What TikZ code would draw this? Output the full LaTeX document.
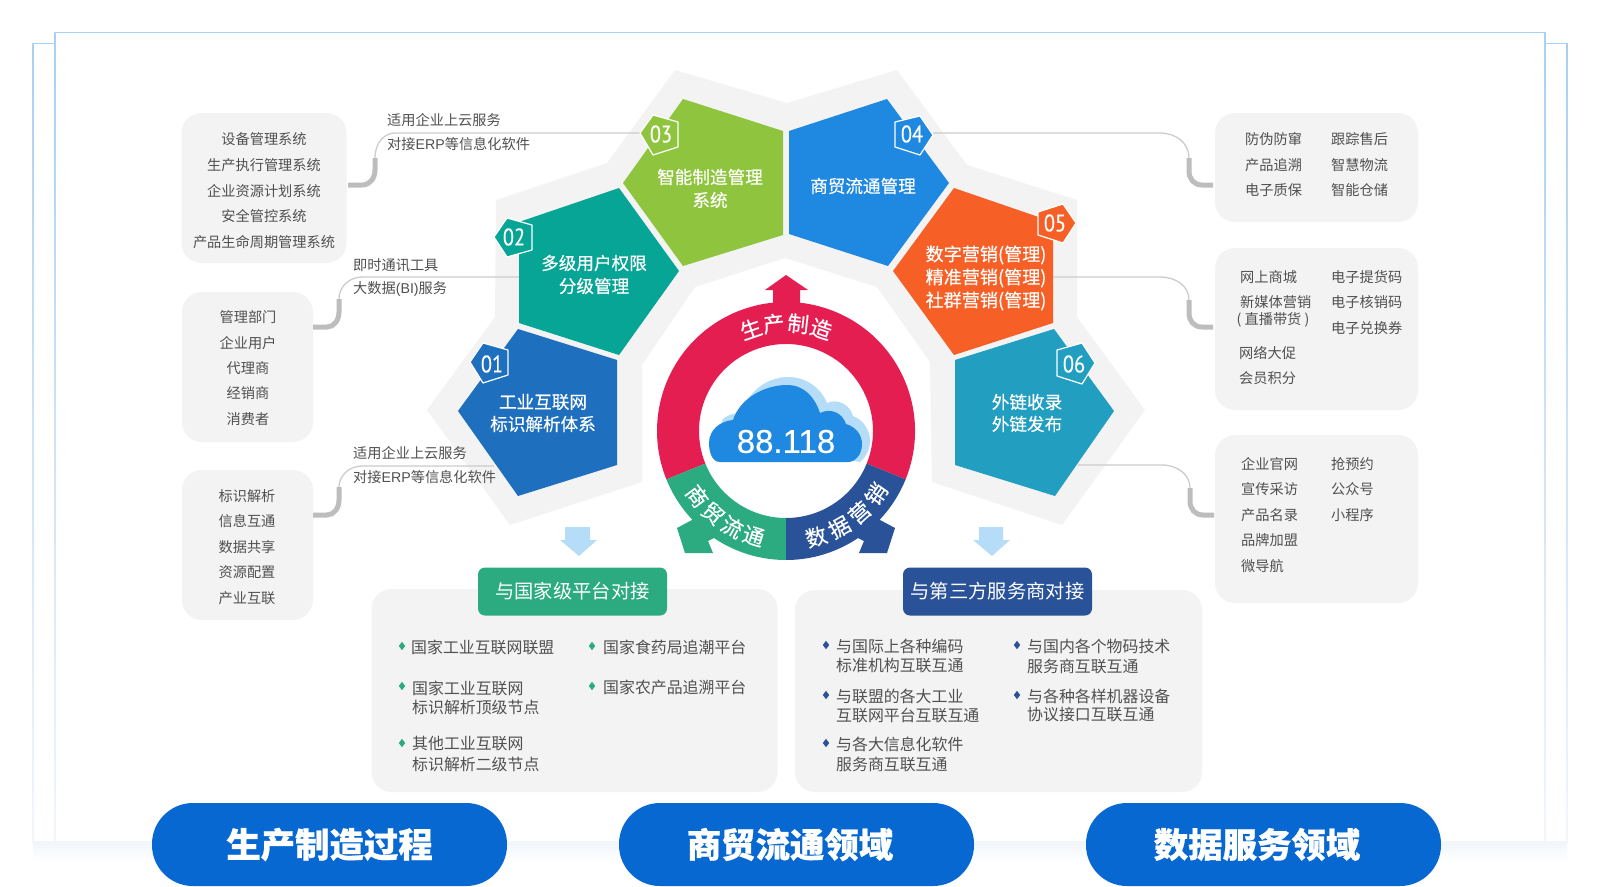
\documentclass[tikz,border=0pt]{standalone}
\usepackage{fontspec}
\setmainfont{Noto Sans CJK SC}
\newfontfamily\medf[FakeBold=0.35]{Noto Sans CJK SC}
\newfontfamily\pillf[BoldFeatures={FakeBold=0.7}]{Noto Sans CJK SC}
\newfontfamily\numf[FakeStretch=0.85,FakeBold=0.2]{PT Sans}
\newfontfamily\arialf[FakeBold=0.3]{Liberation Sans}
\newfontfamily\latf{Liberation Sans}
\usetikzlibrary{calc}
\definecolor{pan}{HTML}{F3F3F3}
\definecolor{tx}{HTML}{505050}
\definecolor{cred}{HTML}{E51E52}
\definecolor{cgreen}{HTML}{2BAB7F}
\definecolor{cblue}{HTML}{2A5298}
\definecolor{cone}{HTML}{1E6FBE}
\definecolor{ctwo}{HTML}{07A596}
\definecolor{cthree}{HTML}{8FC53E}
\definecolor{cfour}{HTML}{1F88E0}
\definecolor{cfive}{HTML}{F65F26}
\definecolor{csix}{HTML}{229FC0}
\definecolor{pill}{HTML}{0768D1}
\definecolor{pale}{HTML}{B5DDF7}
\definecolor{frm}{HTML}{A9D0F3}
\definecolor{frmb}{HTML}{F1F6FB}
\newcommand{\fsz}[1]{\fontsize{#1}{#1}\selectfont}
\tikzset{
  panelbox/.style={fill=pan,rounded corners=20pt,inner sep=0pt},
  small/.style={text=tx,inner sep=0pt,font=\fsz{14.2}},
  smallw/.style={small,anchor=west},
  mid/.style={text=tx,inner sep=0pt,anchor=west,font=\fsz{15.9}},
  pentlabel/.style={text=white,inner sep=0pt,font=\medf\fsz{17.6}},
  badge/.style={draw=white,line width=1.2pt,line join=round},
  badgetext/.style={text=white,inner sep=0pt,font=\numf\fsz{24}},
  thickline/.style={draw=black!26,line width=5pt},
  thinline/.style={draw=black!20,line width=1.3pt},
  ringtext/.style={text=white,inner sep=0pt,font=\medf\fsz{21.5}},
  titlebox/.style={rounded corners=7pt,minimum width=189pt,minimum height=48pt,inner sep=0pt,text=white,font=\fsz{19.3}},
  pillbox/.style={fill=pill,rounded corners=41pt,minimum width=355pt,minimum height=83pt,inner sep=0pt,text=white,font=\pillf\bfseries\fsz{34.4}},
}
\newcommand{\dia}[3]{\fill[#3] (#1-3.2,#2) -- (#1,#2-4.2) -- (#1+3.2,#2) -- (#1,#2+4.2) -- cycle;}
\begin{document}
\begin{tikzpicture}[x=1pt,y=-1pt]
\path[use as bounding box,fill=white] (0,0) rectangle (1600,886);
\clip (0,0) rectangle (1600,886);
% frame
\shade[top color=frmb,bottom color=white] (33,842) rectangle (1567,862);
\shade[top color=frm,bottom color=frmb] (32.3,43) rectangle (33.9,842);
\shade[top color=frm,bottom color=frmb] (54.3,32) rectangle (55.9,842);
\shade[top color=frm,bottom color=frmb] (1566.2,43) rectangle (1567.8,842);
\shade[top color=frm,bottom color=frmb] (1544.2,32) rectangle (1545.8,842);
\draw[frm,line width=1.5pt] (33,43.3) -- (55,43.3);
\draw[frm,line width=1.5pt] (1545,43.3) -- (1567,43.3);
\draw[frm,line width=1.5pt] (55,32.3) -- (1545,32.3);
\draw[frmb,line width=2pt] (33,841.5) -- (1567,841.5);
% grey backdrop
\fill[pan] (427,410) -- (495,317) -- (496,200) -- (607,163) -- (675,70) -- (787,103) -- (897,70) -- (967,165) -- (1077,200) -- (1077,317) -- (1145,410) -- (1062,525) -- (932,482) -- (930,362) -- (877,287) -- (785,258) -- (695,287) -- (642,365) -- (642,482) -- (510,525) -- cycle;
% side panels
\node[panelbox,minimum width=165pt,minimum height=150pt] (pl1) at (264,188) {};
\node[panelbox,minimum width=131pt,minimum height=150pt] (pl2) at (247.5,367) {};
\node[panelbox,minimum width=131pt,minimum height=150pt] (pl3) at (247.5,545) {};
\node[panelbox,minimum width=203pt,minimum height=109pt] (pr1) at (1316.5,167.5) {};
\node[panelbox,minimum width=203pt,minimum height=162pt] (pr2) at (1316.5,329) {};
\node[panelbox,minimum width=203pt,minimum height=168pt] (pr3) at (1316.5,519) {};
\node[panelbox,minimum width=406pt,minimum height=203pt] (pb1) at (574.5,690.5) {};
\node[panelbox,minimum width=407pt,minimum height=202pt] (pb2) at (998.5,691) {};
% connector ends
\coordinate (a3) at (640,133); \coordinate (a2) at (519,277); \coordinate (a1) at (494,466);
\coordinate (a4) at (933,133); \coordinate (a5) at (1053,277); \coordinate (a6) at (1078,465);
\coordinate (e1) at (348,185); \coordinate (m1) at (375,158);
\coordinate (e2) at (313,327); \coordinate (m2) at (339,299);
\coordinate (e3) at (313,515); \coordinate (m3) at (339,487);
\coordinate (e4) at (1213,185); \coordinate (m4) at (1189,158);
\coordinate (e5) at (1213,327); \coordinate (m5) at (1189,300);
\coordinate (e6) at (1214,515); \coordinate (m6) at (1190,488);
\draw[thinline] (a3) -- (395,133) .. controls (385,133) and (375,142) .. (m1);
\draw[thinline] (a2) -- (362,277) .. controls (350,277) and (339,286) .. (m2);
\draw[thinline] (a1) -- (362,466) .. controls (350,466) and (339,475) .. (m3);
\draw[thinline] (a4) -- (1160,133) .. controls (1176,133) and (1189,143) .. (m4);
\draw[thinline] (a5) -- (1160,277) .. controls (1176,277) and (1189,286) .. (m5);
\draw[thinline] (a6) -- (1162,465) .. controls (1178,465) and (1190,475) .. (m6);
\draw[thickline] (e1) -- (362,185) .. controls (370,185) and (375,178) .. (375,170) -- (m1);
\draw[thickline] (e2) -- (327,327) .. controls (334,327) and (339,320) .. (339,312) -- (m2);
\draw[thickline] (e3) -- (327,515) .. controls (334,515) and (339,508) .. (339,500) -- (m3);
\draw[thickline] (e4) -- (1202,185) .. controls (1194,185) and (1189,179) .. (1189,171) -- (m4);
\draw[thickline] (e5) -- (1202,327) .. controls (1194,327) and (1189,321) .. (1189,313) -- (m5);
\draw[thickline] (e6) -- (1203,515) .. controls (1195,515) and (1190,509) .. (1190,501) -- (m6);
% pentagons
\fill[cone] (458,411) -- (518,329) -- (617,360) -- (617,465) -- (518,496) -- cycle;
\fill[ctwo] (519,222) -- (619,188) -- (679,271) -- (619,355) -- (519,323) -- cycle;
\fill[cthree] (623,183) -- (683,99) -- (783,131) -- (783,235) -- (683,266) -- cycle;
\fill[cfour] (789,131) -- (887,99) -- (949,183) -- (888,266) -- (789,234) -- cycle;
\fill[cfive] (893,271) -- (954,188) -- (1053,222) -- (1053,323) -- (954,355) -- cycle;
\fill[csix] (955,360) -- (1054,329) -- (1114,411) -- (1055,496) -- (955,465) -- cycle;
% badges
\filldraw[badge,fill=cone] (470,362) -- (483,343) -- (508,350) -- (508,375) -- (483,383) -- cycle;
\filldraw[badge,fill=ctwo] (494,237) -- (507,218) -- (532,225) -- (532,250) -- (507,257) -- cycle;
\filldraw[badge,fill=cthree] (640,133) -- (653,115) -- (678,122) -- (678,147) -- (653,155) -- cycle;
\filldraw[badge,fill=cfour] (895,122) -- (920,116) -- (933,135) -- (920,155) -- (895,147) -- cycle;
\filldraw[badge,fill=cfive] (1038,212) -- (1063,204) -- (1076,223) -- (1063,243) -- (1038,235) -- cycle;
\filldraw[badge,fill=csix] (1057,350) -- (1082,343) -- (1095,363) -- (1082,384) -- (1057,376) -- cycle;
\node[badgetext] (n1) at (492,364) {01};
\node[badgetext] (n2) at (514,237) {02};
\node[badgetext] (n3) at (661,134) {03};
\node[badgetext] (n4) at (912,134) {04};
\node[badgetext] (n5) at (1055,223) {05};
\node[badgetext] (n6) at (1074,364) {06};
% pentagon labels
\node[pentlabel] (t1a) at (543,402) {工业互联网};
\node[pentlabel] (t1b) at (543,424) {标识解析体系};
\node[pentlabel] (t2a) at (594,263) {多级用户权限};
\node[pentlabel] (t2b) at (594,286) {分级管理};
\node[pentlabel] (t3a) at (710,177) {智能制造管理};
\node[pentlabel] (t3b) at (710,200) {系统};
\node[pentlabel] (t4a) at (863,186) {商贸流通管理};
\node[pentlabel,font=\medf\fsz{18.1}] (t5a) at (986,255) {数字营销(管理)};
\node[pentlabel,font=\medf\fsz{18.1}] (t5b) at (986,278) {精准营销(管理)};
\node[pentlabel,font=\medf\fsz{18.1}] (t5c) at (986,301) {社群营销(管理)};
\node[pentlabel] (t6a) at (1027,402) {外链收录};
\node[pentlabel] (t6b) at (1027,424) {外链发布};
% ring
\fill[cred] (773,305) -- (773,290) -- (765,290) -- (786,275) -- (808,290) -- (800,290) -- (800,305) -- cycle;
\fill[cred] ({786+129*cos(22)},{431+129*sin(22)}) arc[start angle=-22,end angle=202,radius=129pt] -- ({786+87*cos(202)},{431-87*sin(202)}) arc[start angle=202,end angle=-22,radius=87pt] -- cycle;
\fill[cgreen] ({786+129*cos(202)},{431-129*sin(202)}) arc[start angle=202,end angle=270,radius=129pt] -- (786,518) arc[start angle=270,end angle=202,radius=87pt] -- cycle;
\fill[cblue] (786,560) arc[start angle=270,end angle=338,radius=129pt] -- ({786+87*cos(22)},{431+87*sin(22)}) arc[start angle=338,end angle=270,radius=87pt] -- cycle;
\fill[cgreen] (692,520) -- (677,528) -- (685,553) -- (713,553) -- (708,541) -- (730,530) -- (705,505) -- cycle;
\fill[cblue] (880,520) -- (895,528) -- (887,553) -- (859,553) -- (864,541) -- (842,530) -- (867,505) -- cycle;
\foreach \c/\a [count=\i] in {生/-19,产/-6.5,制/6.5,造/19}
  \node[ringtext,rotate=-\a] (rr\i) at ({786+108*sin(\a)},{431-108*cos(\a)}) {\c};
\foreach \c/\a [count=\i] in {商/53.7,贸/41.5,流/29.3,通/17.2}
  \node[ringtext,rotate=-\a] (rg\i) at ({786-110*sin(\a)},{431+110*cos(\a)}) {\c};
\foreach \c/\a [count=\i] in {数/16,据/29,营/42,销/55}
  \node[ringtext,rotate=\a] (rb\i) at ({786+110*sin(\a)},{431+110*cos(\a)}) {\c};
% cloud
\fill[pale] (722,420) .. controls (725,416) and (733,413) .. (741,413) .. controls (750,388) and (770,377) .. (788,377) .. controls (808,377) and (822,390) .. (827,403) .. controls (838,398) and (850,405) .. (853,416) .. controls (864,420) and (871,432) .. (870,443) .. controls (869,452) and (865,458) .. (860,462) -- (722,440) -- cycle;
\fill[cfour] (720,462) .. controls (712,462) and (709,452) .. (709,443) .. controls (709,430) and (720,421) .. (733,420) .. controls (740,398) and (765,385) .. (787,385) .. controls (805,385) and (815,398) .. (820,413) .. controls (830,408) and (842,412) .. (846,424) .. controls (856,427) and (862,435) .. (862,444) .. controls (862,455) and (855,462) .. (848,462) -- cycle;
\node[text=white,inner sep=0pt,font=\arialf\fsz{33}] (num) at (786,441.5) {88.118};
% left panel text
\foreach \y/\t [count=\i] in {139/设备管理系统,165/生产执行管理系统,191/企业资源计划系统,216/安全管控系统,242/产品生命周期管理系统}
  \node[small] (la\i) at (264,\y) {\t};
\foreach \y/\t [count=\i] in {317/管理部门,343/企业用户,368/代理商,393/经销商,419/消费者}
  \node[small] (lb\i) at (248,\y) {\t};
\foreach \y/\t [count=\i] in {496/标识解析,521/信息互通,547/数据共享,572/资源配置,598/产业互联}
  \node[small] (lc\i) at (247,\y) {\t};
% connector labels
\node[smallw] (ca1) at (387,120) {适用企业上云服务};
\node[smallw] (ca2) at (387,144) {对接{\latf ERP}等信息化软件};
\node[smallw] (cb1) at (353,265) {即时通讯工具};
\node[smallw] (cb2) at (353,289) {大数据{\latf (BI)}服务};
\node[smallw] (cc1) at (353,453) {适用企业上云服务};
\node[smallw] (cc2) at (353,477) {对接{\latf ERP}等信息化软件};
% right panel text
\foreach \y/\t [count=\i] in {139/防伪防窜,165/产品追溯,190/电子质保}
  \node[smallw] (ra\i) at (1245,\y) {\t};
\foreach \y/\t [count=\i] in {139/跟踪售后,165/智慧物流,190/智能仓储}
  \node[smallw] (rb\i) at (1331,\y) {\t};
\node[smallw] (rc1) at (1240,277) {网上商城};
\node[smallw] (rc2) at (1240,302) {新媒体营销};
\node[small] (rc3) at (1273,320) {( 直播带货 )};
\node[smallw] (rc4) at (1239,353) {网络大促};
\node[smallw] (rc5) at (1239,378) {会员积分};
\foreach \y/\t [count=\i] in {277/电子提货码,302/电子核销码,328/电子兑换券}
  \node[smallw] (rd\i) at (1331,\y) {\t};
\foreach \y/\t [count=\i] in {464/企业官网,489/宣传采访,515/产品名录,540/品牌加盟,566/微导航}
  \node[smallw] (re\i) at (1241,\y) {\t};
\foreach \y/\t [count=\i] in {464/抢预约,489/公众号,515/小程序}
  \node[smallw] (rf\i) at (1331,\y) {\t};
% pale arrows
\fill[pale] (565,527) -- (590,527) -- (590,540) -- (597,540) -- (579,556) -- (560,540) -- (565,540) -- cycle;
\fill[pale] (979,527) -- (1003,527) -- (1003,540) -- (1010,540) -- (992,556) -- (973,540) -- (979,540) -- cycle;
% title boxes
\node[titlebox,fill=cgreen] (tg) at (572.5,591.5) {与国家级平台对接};
\node[titlebox,fill=cblue] (tb) at (997.5,591.5) {与第三方服务商对接};
% lower left
\dia{402}{646}{cgreen}\dia{402}{686}{cgreen}\dia{402}{743}{cgreen}\dia{592}{646}{cgreen}\dia{592}{686}{cgreen}
\node[mid] (g1) at (411,647) {国家工业互联网联盟};
\node[mid] (g2) at (412,688) {国家工业互联网};
\node[mid] (g3) at (412,707) {标识解析顶级节点};
\node[mid] (g4) at (412,744) {其他工业互联网};
\node[mid] (g5) at (412,764) {标识解析二级节点};
\node[mid] (g6) at (603,647) {国家食药局追潮平台};
\node[mid] (g7) at (603,687) {国家农产品追溯平台};
% lower right
\dia{826}{645}{cblue}\dia{826}{695}{cblue}\dia{826}{743}{cblue}\dia{1017}{645}{cblue}\dia{1017}{695}{cblue}
\node[mid] (h1) at (836,646) {与国际上各种编码};
\node[mid] (h2) at (836,666) {标准机构互联互通};
\node[mid] (h3) at (836,696) {与联盟的各大工业};
\node[mid] (h4) at (836,715) {互联网平台互联互通};
\node[mid] (h5) at (836,744) {与各大信息化软件};
\node[mid] (h6) at (836,764) {服务商互联互通};
\node[mid] (h7) at (1027,646) {与国内各个物码技术};
\node[mid] (h8) at (1027,666) {服务商互联互通};
\node[mid] (h9) at (1027,696) {与各种各样机器设备};
\node[mid] (h10) at (1027,715) {协议接口互联互通};
% pills
\node[pillbox] (p1) at (329.5,844.5) {生产制造过程};
\node[pillbox] (p2) at (796.5,844.5) {\hspace*{-13pt}商贸流通领域};
\node[pillbox] (p3) at (1263.5,844.5) {\hspace*{-13pt}数据服务领域};
\end{tikzpicture}
\end{document}
